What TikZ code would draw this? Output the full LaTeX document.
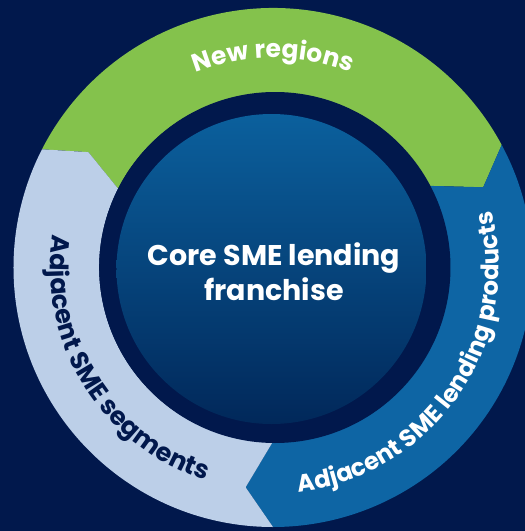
\documentclass[tikz,border=0pt]{standalone}
\usepackage{fontspec}
\setmainfont{Poppins}
\usetikzlibrary{decorations.text}

\definecolor{navy}{RGB}{1,24,76}
\definecolor{leafgreen}{RGB}{132,194,76}
\definecolor{midblue}{RGB}{14,101,164}
\definecolor{paleblue}{RGB}{188,207,232}
\definecolor{coretop}{RGB}{11,96,157}
\definecolor{corebottom}{RGB}{1,40,90}

\tikzset{
  segment/.style={fill=#1},
  ringlabel/.style={decorate, decoration={text along path, text align=center, text={#1}}},
  corelabel/.style={text=white, anchor=base, inner sep=0pt, font=\fontsize{28.5}{32}\selectfont\bfseries}
}

\begin{document}
\begin{tikzpicture}[x=1pt,y=1pt]
  \useasboundingbox (-273,-263.5) rectangle (252,267.5);
  \fill[navy] (-273,-263.5) rectangle (252,267.5);

  % three arrow-shaped ring segments, each pointing clockwise
  \fill[segment=leafgreen] (152.9:259.5) arc[start angle=152.9, end angle=28.2, radius=259.5]
    -- (20.9:225) -- (28:174) arc[start angle=28, end angle=153, radius=174]
    -- (148:217.7) -- cycle;
  \fill[segment=midblue] (28.2:259.5) arc[start angle=28.2, end angle=-90, radius=259.5]
    -- (-97.1:221.5) -- (-90:174) arc[start angle=-90, end angle=28, radius=174]
    -- (20.9:225) -- cycle;
  \fill[segment=paleblue] (-90:259.5) arc[start angle=-90, end angle=-207.1, radius=259.5]
    -- (-212:217.7) -- (-207:174) arc[start angle=-207, end angle=-90, radius=174]
    -- (-97.1:221.5) -- cycle;

  % core disc with its dark rim
  \fill[navy] (2,0) circle[radius=175.5];
  \shade[top color=coretop, bottom color=corebottom] (-1.5,-1.5) circle[radius=155];

  % curved ring labels
  \path[ringlabel={|\fontsize{25}{30}\selectfont\bfseries\color{white}|New regions}]
    (150:209.5) arc[start angle=150, end angle=30, radius=209.5];
  \path[ringlabel={|\fontsize{24.2}{30}\selectfont\bfseries\color{white}|Adjacent SME lending products}]
    (-90:226) arc[start angle=-90, end angle=21, radius=226];
  \path[ringlabel={|\fontsize{25.5}{30}\selectfont\bfseries\color{navy}|Adjacent SME segments}]
    (172:223) arc[start angle=172, end angle=252, radius=223];

  % centre label
  \node[corelabel] (core1) at (1,2.5) {Core SME lending};
  \node[corelabel] (core2) at (1,-32.5) {franchise};
\end{tikzpicture}
\end{document}
